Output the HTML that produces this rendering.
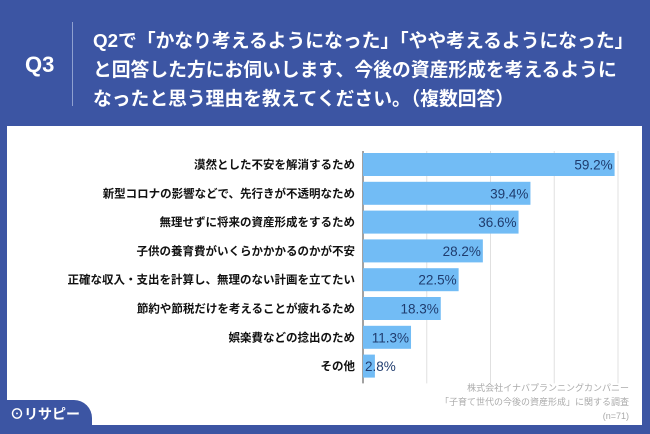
<!DOCTYPE html>
<html><head><meta charset="utf-8">
<style>
body{margin:0;width:650px;height:434px;background:#3c55a3;font-family:"Liberation Sans","Noto Sans CJK JP",sans-serif;overflow:hidden;position:relative}
.abs{position:absolute}
</style></head><body>
<div class="abs" style="left:25px;top:52px;color:#fff;font-size:22px;font-weight:bold">Q3</div>
<div class="abs" style="left:72px;top:22px;width:1px;height:84px;background:#8fa0d0"></div>
<div class="abs" style="left:93px;top:26px;color:#fff;font-size:18.8px;font-weight:bold;line-height:29px;white-space:nowrap">Q2で「かなり考えるようになった」「やや考えるようになった」<br>と回答した方にお伺いします、今後の資産形成を考えるように<br>なったと思う理由を教えてください。（複数回答）</div>
<div class="abs" style="left:7px;top:126px;width:635px;height:299px;background:#fff"></div>
<svg class="abs" style="left:0;top:0" width="650" height="434">
<g id="g"></g>
</svg>
<div class="abs" style="left:0;top:400px;width:92px;height:34px;background:#3c55a3;border-top-right-radius:18px"></div>
<div class="abs" style="right:21px;top:381px;color:#aaa;font-size:9px;line-height:14px;text-align:right">株式会社イナバプランニングカンパニー<br>「子育て世代の今後の資産形成」に関する調査<br>(n=71)</div>
<div class="abs" style="left:10px;top:404px;color:#fff;font-size:14px;font-weight:bold">⊙リサピー</div>
<script>
const categories=["漠然とした不安を解消するため","新型コロナの影響などで、先行きが不透明なため","無理せずに将来の資産形成をするため","子供の養育費がいくらかかかるのかが不安","正確な収入・支出を計算し、無理のない計画を立てたい","節約や節税だけを考えることが疲れるため","娯楽費などの捻出のため","その他"];
const values=[59.2,39.4,36.6,28.2,22.5,18.3,11.3,2.8];
const ticks=[0,15,30,45,60];
const X0=363,X1=618,MAXV=60,TOPY=153,STEP=28.8,BH=23;
const xs=v=>X0+(X1-X0)*v/MAXV;
const g=document.getElementById('g');const NS='http://www.w3.org/2000/svg';
function mk(t,a){const e=document.createElementNS(NS,t);for(const k in a)e.setAttribute(k,a[k]);g.appendChild(e);return e;}
ticks.forEach(t=>{const l=mk('line',{x1:xs(t),x2:xs(t),y1:TOPY-2,y2:TOPY+STEP*categories.length,stroke:t?'#e0e0e0':'#444','stroke-width':1});

});
categories.forEach((c,i)=>{const y=TOPY+i*STEP;
const r=mk('rect',{x:X0,y:y,width:xs(values[i])-X0,height:BH,fill:'#72bcf5'});


const lb=mk('text',{x:X0-8,y:y+BH/2+4,'text-anchor':'end','font-size':11.5,'font-weight':'bold',fill:'#111'});lb.textContent=c;


const small=values[i]<10;
const v=mk('text',{x:small?X0+2:xs(values[i])-2,y:y+BH/2+5,'text-anchor':small?'start':'end','font-size':13.5,fill:'#1f3c6e'});
v.textContent=values[i].toFixed(1)+'%';

});
</script>
</body></html>
